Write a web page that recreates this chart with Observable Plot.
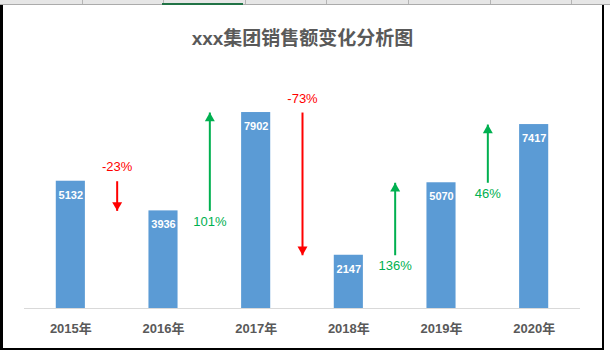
<!DOCTYPE html>
<html>
<head>
<meta charset="utf-8">
<script src="https://cdn.jsdelivr.net/npm/d3@7"></script>
<script src="https://cdn.jsdelivr.net/npm/@observablehq/plot@0.6"></script>
<style>
  html, body { margin: 0; padding: 0; background: #fff; }
  #wrap { position: relative; width: 610px; height: 355px; overflow: hidden; font-family: "Liberation Sans", "Noto Sans CJK SC", sans-serif; }
  #chart { position: absolute; left: 0; top: 0; }
  .strip { position: absolute; left: 0; top: 0; width: 610px; height: 4px; background: #e6e6e6; border-bottom: 1px solid #ababab;
    background-image: repeating-linear-gradient(to right, transparent 0, transparent 80.6px, #b5b5b5 80.6px, #b5b5b5 81.6px); background-position: 1px 0; }
  .tab { position: absolute; left: 162px; top: 3px; width: 81px; height: 2px; background: #217346; }
  .bl { position: absolute; left: 0; top: 5px; width: 3px; height: 345px; background: #000; }
  .br { position: absolute; left: 602px; top: 5px; width: 2px; height: 345px; background: #000; }
  .bb { position: absolute; left: 0; top: 348px; width: 604px; height: 2px; background: #000; }
</style>
</head>
<body>
<div id="wrap">
  <div id="chart"></div>
  <div class="strip"></div>
  <div class="tab"></div>
  <div class="bl"></div>
  <div class="br"></div>
  <div class="bb"></div>
</div>
<script>
const title = "xxx集团销售额变化分析图";
const years = ["2015年", "2016年", "2017年", "2018年", "2019年", "2020年"];
const sales = [5132, 3936, 7902, 2147, 5070, 7417];

const UP = "#00B050", DOWN = "#FF0000", BAR = "#5B9BD5", GREY = "#595959";

const bars = years.map((y, i) => ({i, year: y, value: sales[i]}));
const changes = sales.slice(1).map((v, k) => {
  const from = sales[k], to = v;
  const pct = (to - from) / from;
  return {x: k + 0.5, from, to, pct, up: to >= from, label: Math.round(pct * 100) + "%"};
});
const ups = changes.filter(d => d.up);
const downs = changes.filter(d => !d.up);

const font = '"Liberation Sans", "Noto Sans CJK SC", sans-serif';

const chart = Plot.plot({
  width: 610,
  height: 355,
  marginLeft: 24,
  marginRight: 30,
  marginTop: 60,
  marginBottom: 47,
  style: {background: "transparent", fontFamily: font, overflow: "visible"},
  x: {domain: [-0.5, years.length - 0.5], axis: null},
  y: {domain: [0, 10000], axis: null},
  color: {type: "identity"},
  marks: [
    Plot.rectY(bars, {x1: d => d.i - 0.157, x2: d => d.i + 0.157, y1: 0, y2: "value", fill: BAR}),
    Plot.ruleY([0], {stroke: "#D9D9D9", strokeWidth: 1}),
    Plot.text(bars, {x: "i", y: "value", text: d => String(d.value), dy: 14, fill: "white", fontWeight: "bold", fontSize: 11}),
    Plot.text(bars, {x: "i", y: 0, text: "year", dy: 20, fill: GREY, fontWeight: "bold", fontSize: 13}),
    Plot.link(changes, {x1: "x", x2: "x", y1: "from", y2: "to", stroke: d => d.up ? UP : DOWN, strokeWidth: 2}),
    Plot.dot(ups, {x: "x", y: "to", symbol: "triangle", r: 3.7, fill: UP, stroke: null, dy: 5.77}),
    Plot.dot(downs, {x: "x", y: "to", symbol: "triangle", r: 3.7, fill: DOWN, stroke: null, rotate: 180, dy: -5.77}),
    Plot.text(ups, {x: "x", y: "from", text: "label", dy: 11, fill: UP, fontSize: 13}),
    Plot.text(downs, {x: "x", y: "from", text: "label", dy: -14, fill: DOWN, fontSize: 13}),
    Plot.text([title], {frameAnchor: "top", dy: -29, fill: GREY, fontWeight: "bold", fontSize: 19})
  ]
});
document.getElementById("chart").appendChild(chart);
</script>
</body>
</html>
